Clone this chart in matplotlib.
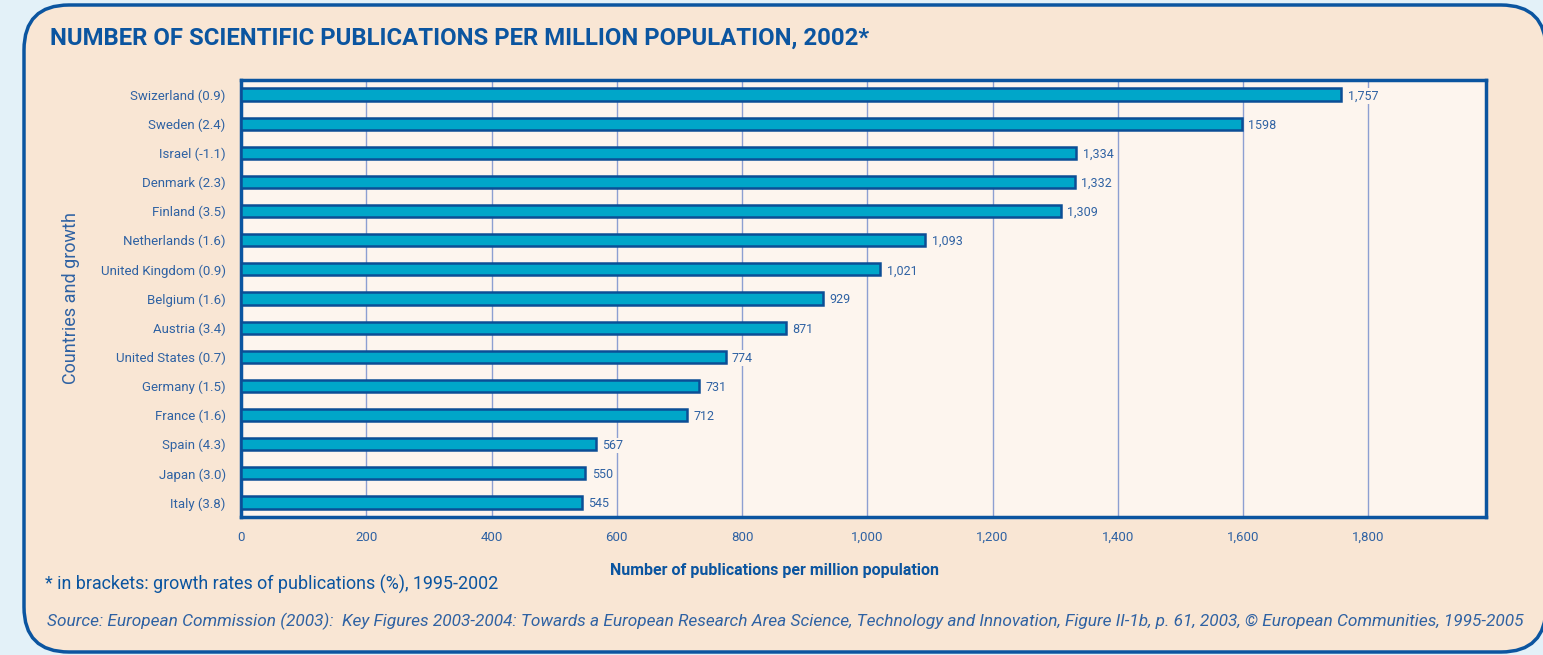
import matplotlib.pyplot as plt
from matplotlib.patches import FancyBboxPatch
from matplotlib.ticker import FuncFormatter

# Data for the plot
countries = ['Swizerland (0.9)', 'Sweden (2.4)', 'Israel (-1.1)', 'Denmark (2.3)',
             'Finland (3.5)', 'Netherlands (1.6)', 'United Kingdom (0.9)',
             'Belgium (1.6)', 'Austria (3.4)', 'United States (0.7)',
             'Germany (1.5)', 'France (1.6)', 'Spain (4.3)', 'Japan (3.0)',
             'Italy (3.8)']
publications = [1757, 1598, 1334, 1332, 1309, 1093, 1021, 929, 871, 774,
                731, 712, 567, 550, 545]
value_labels = ['1,757', '1598', '1,334', '1,332', '1,309', '1,093', '1,021',
                '929', '871', '774', '731', '712', '567', '550', '545']
x_ticks = [0, 200, 400, 600, 800, 1000, 1200, 1400, 1600, 1800]

# Colours
outer_bg = '#e3f1f8'
panel_bg = '#f9e6d4'
plot_bg = '#fdf5ee'
dark_blue = '#0b55a0'
text_blue = '#2f62a3'
bar_color = '#00a6c9'
bar_edge = '#0b4e96'
grid_color = '#8d9fd2'

plt.rcParams['font.family'] = ['Roboto', 'DejaVu Sans']

fig = plt.figure(figsize=(15.43, 6.55), dpi=100)
fig.patch.set_facecolor(outer_bg)

# background panel with rounded border, drawn in pixel coordinates
bg = fig.add_axes([0, 0, 1, 1])
bg.set_xlim(0, 1543)
bg.set_ylim(655, 0)
bg.axis('off')
panel = FancyBboxPatch((24, 5), 1522, 647, boxstyle='round,pad=0,rounding_size=45',
                       facecolor=panel_bg, edgecolor=dark_blue, linewidth=2.5)
bg.add_patch(panel)

# main chart
ax = fig.add_axes([241 / 1543, 1 - 517 / 655, (1486 - 241) / 1543, (517 - 80) / 655])
ax.set_facecolor(plot_bg)
y_pos = list(range(len(countries)))
ax.barh(y_pos, publications, height=0.42, color=bar_color, edgecolor=bar_edge,
        linewidth=1.8, zorder=3)
ax.set_ylim(len(countries) - 0.5, -0.5)
ax.set_xlim(0, 1988)

ax.set_xticks(x_ticks)
ax.xaxis.set_major_formatter(FuncFormatter(lambda v, p: f'{int(v):,}'))
ax.set_yticks(y_pos)
ax.set_yticklabels(countries)
ax.tick_params(axis='both', length=0, labelsize=9.5, labelcolor=text_blue)
ax.tick_params(axis='x', pad=10)
ax.tick_params(axis='y', pad=11)

ax.grid(axis='x', color=grid_color, linewidth=1, zorder=1)
ax.set_axisbelow(True)
for s in ax.spines.values():
    s.set_color(dark_blue)
    s.set_linewidth(2.5)

for y, v, lab in zip(y_pos, publications, value_labels):
    ax.text(v + 10, y + 0.05, lab, va='center', ha='left', fontsize=9, color=text_blue,
            zorder=4, bbox=dict(boxstyle='square,pad=0.1', facecolor=plot_bg, edgecolor='none'))

ax.set_ylabel('Countries and growth', fontsize=13, color=text_blue)
ax.yaxis.set_label_coords(-0.129, 0.5)

# x axis title sits left of the axes centre in the original
fig.text(775 / 1543, 1 - 570 / 655, 'Number of publications per million population',
         fontsize=11.5, fontweight='bold', color=dark_blue, va='center', ha='center')

# titles and notes
fig.text(50 / 1543, 1 - 38 / 655, 'NUMBER OF SCIENTIFIC PUBLICATIONS PER MILLION POPULATION, 2002*',
         fontsize=17.2, fontweight='bold', color=dark_blue, va='center', ha='left')
fig.text(45 / 1543, 1 - 584 / 655, '* in brackets: growth rates of publications (%), 1995-2002',
         fontsize=12.9, color=dark_blue, va='center', ha='left')
fig.text(47 / 1543, 1 - 621 / 655,
         'Source: European Commission (2003):  Key Figures 2003-2004: Towards a European Research Area '
         'Science, Technology and Innovation, Figure II-1b, p. 61, 2003, \u00a9 European Communities, 1995-2005',
         fontsize=12.4, style='italic', color=text_blue, va='center', ha='left')

fig.savefig('out.png', dpi=100, facecolor=fig.get_facecolor())
